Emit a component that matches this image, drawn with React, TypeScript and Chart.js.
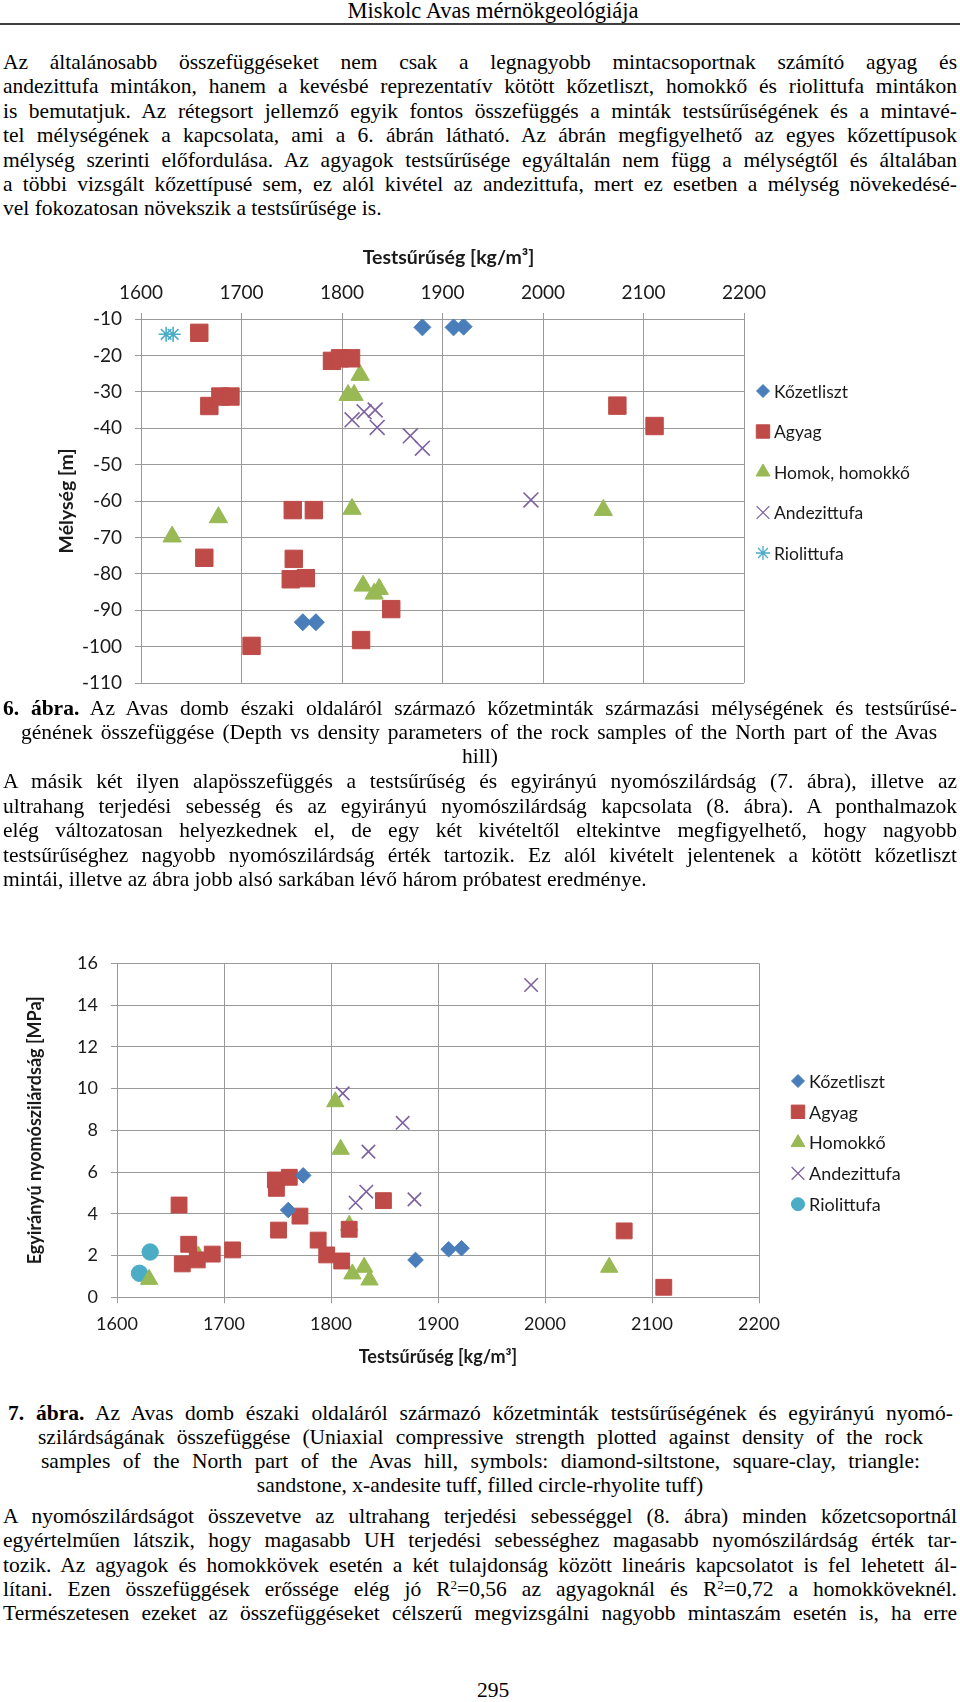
import React, { useEffect, useRef } from 'react';
import { Chart, registerables } from 'chart.js';
import { drawPoint } from 'chart.js/helpers';

Chart.register(...registerables);

// ---------- Figure 6 data: density [kg/m3] vs depth [m] ----------
const F6_KOZET_X = [1880, 1911, 1921, 1761, 1774];
const F6_KOZET_Y = [-12.3, -12.3, -12.1, -93.3, -93.3];
const F6_AGYAG_X = [1658, 1790, 1798, 1809, 1668, 1679, 1689, 2074, 2111, 1751, 1772, 1663, 1752, 1749, 1764, 1849, 1819, 1710];
const F6_AGYAG_Y = [-13.8, -21.5, -20.8, -20.8, -33.9, -31.3, -31.3, -33.8, -39.4, -62.5, -62.5, -75.6, -75.9, -81.5, -81.2, -89.7, -98.2, -99.8];
const F6_HOMOK_X = [1818, 1806, 1812, 1810, 1677, 1631, 2060, 1821, 1837, 1832];
const F6_HOMOK_Y = [-25.4, -30.9, -30.9, -62.2, -64.5, -69.8, -62.5, -83.3, -84.2, -85.5];
const F6_ANDEZ_X = [1810, 1822, 1833, 1835, 1868, 1880, 1988];
const F6_ANDEZ_Y = [-37.7, -35.5, -35.0, -39.8, -42.1, -45.5, -59.7];
const F6_RIO_X = [1625, 1632];
const F6_RIO_Y = [-14.2, -14.2];
const F6_LABELS = ['Kőzetliszt', 'Agyag', 'Homok, homokkő', 'Andezittufa', 'Riolittufa'];
const F6_X_TICKS = [1600, 2200, 100];
const F6_Y_TICKS = [-110, -10, 10];

// ---------- Figure 7 data: density [kg/m3] vs UCS [MPa] ----------
const F7_KOZET_X = [1760, 1774, 1879, 1910, 1922];
const F7_KOZET_Y = [4.18, 5.84, 1.79, 2.3, 2.35];
const F7_AGYAG_X = [1658, 1667, 1661, 1675, 1689, 1708, 1751, 1749, 1748, 1761, 1771, 1788, 1796, 1810, 1817, 1849, 2074, 2111];
const F7_AGYAG_Y = [4.42, 2.54, 1.6, 1.79, 2.07, 2.27, 3.22, 5.22, 5.62, 5.75, 3.89, 2.74, 2.03, 1.74, 3.26, 4.63, 3.18, 0.48];
const F7_HOMOK_X = [1630, 1676, 1804, 1809, 1817, 1820, 1831, 1836, 2060];
const F7_HOMOK_Y = [0.86, 1.98, 9.37, 7.09, 3.45, 1.12, 1.44, 0.83, 1.44];
const F7_ANDEZ_X = [1811, 1867, 1835, 1823, 1833, 1878, 1987];
const F7_ANDEZ_Y = [9.77, 8.36, 6.98, 4.53, 5.06, 4.69, 14.96];
const F7_RIO_X = [1621, 1631];
const F7_RIO_Y = [1.15, 2.17];
const F7_LABELS = ['Kőzetliszt', 'Agyag', 'Homokkő', 'Andezittufa', 'Riolittufa'];
const F7_X_TICKS = [1600, 2200, 100];
const F7_Y_TICKS = [0, 16, 2];

const BLUE = '#4A7EBB';
const RED = '#BE4B48';
const GREEN = '#98B954';
const PURPLE = '#7D60A0';
const CYAN = '#4BACC6';
const GRID = '#9A9A9A';
const FONT = 'Lato, "Open Sans", sans-serif';
const SERIF = '"Liberation Serif", "Times New Roman", serif';

const zip = (xs: number[], ys: number[]) => xs.map((x, i) => ({ x, y: ys[i] }));

type Sty = { style: string; radius: number; color: string; line?: boolean; lr: number };

function ds(label: string, xs: number[], ys: number[], s: Sty) {
  return {
    label,
    data: zip(xs, ys),
    pointStyle: s.style,
    pointRadius: s.radius,
    pointHoverRadius: s.radius,
    backgroundColor: s.line ? 'rgba(0,0,0,0)' : s.color,
    borderColor: s.color,
    pointBorderWidth: s.line ? 1.6 : 1,
    showLine: false,
  };
}

function overlay(opts: any) {
  return {
    id: 'overlay',
    afterDraw(chart: any) {
      const ctx = chart.ctx;
      const a = chart.chartArea;
      ctx.save();
      ctx.fillStyle = '#1a1a1a';
      ctx.textAlign = 'center';
      ctx.textBaseline = 'middle';
      ctx.font = `bold ${opts.titleSize}px ${FONT}`;
      ctx.fillText(opts.xTitle, (a.left + a.right) / 2 + opts.xTitleDx, opts.xTitleY);
      ctx.save();
      ctx.translate(opts.yTitleX, (a.top + a.bottom) / 2);
      ctx.rotate(-Math.PI / 2);
      ctx.fillText(opts.yTitle, 0, 0);
      ctx.restore();
      // legend
      ctx.textAlign = 'left';
      ctx.font = `${opts.legendSize}px ${FONT}`;
      opts.legend.forEach((it: any, i: number) => {
        const y = opts.legendY + i * opts.legendDy;
        ctx.save();
        ctx.fillStyle = it.line ? 'rgba(0,0,0,0)' : it.color;
        ctx.strokeStyle = it.color;
        ctx.lineWidth = it.line ? 1.3 : 1;
        drawPoint(ctx, { pointStyle: it.style, radius: it.lr, rotation: 0, borderWidth: ctx.lineWidth }, opts.legendX, y);
        ctx.restore();
        ctx.fillStyle = '#1a1a1a';
        ctx.fillText(it.label, opts.legendTextX, y + 1);
      });
      ctx.restore();
    },
  };
}

function ScatterChart(props: { width: number; height: number; config: any }) {
  const ref = useRef<HTMLCanvasElement | null>(null);
  useEffect(() => {
    if (!ref.current) return;
    const chart = new Chart(ref.current, props.config);
    return () => chart.destroy();
  }, []);
  return <canvas ref={ref} width={props.width} height={props.height} style={{ width: props.width, height: props.height, display: 'block' }} />;
}

function makeFig6() {
  const styles: Sty[] = [
    { style: 'rectRot', radius: 8.5, color: BLUE, lr: 6.5 },
    { style: 'rect', radius: 12.3, color: RED, lr: 9.5 },
    { style: 'triangle', radius: 10.6, color: GREEN, lr: 8 },
    { style: 'crossRot', radius: 10.5, color: PURPLE, line: true, lr: 9 },
    { style: 'star', radius: 7.5, color: CYAN, line: true, lr: 7 },
  ];
  const xs = [F6_KOZET_X, F6_AGYAG_X, F6_HOMOK_X, F6_ANDEZ_X, F6_RIO_X];
  const ys = [F6_KOZET_Y, F6_AGYAG_Y, F6_HOMOK_Y, F6_ANDEZ_Y, F6_RIO_Y];
  const datasets = F6_LABELS.map((l, i) => ds(l, xs[i], ys[i], styles[i]));
  return {
    type: 'scatter',
    data: { datasets },
    options: {
      responsive: false,
      animation: false,
      layout: { autoPadding: false, padding: { left: 0, right: 216, top: 0, bottom: 17 } },
      plugins: { legend: { display: false }, tooltip: { enabled: false } },
      scales: {
        x: {
          type: 'linear',
          position: 'top',
          min: F6_X_TICKS[0],
          max: F6_X_TICKS[1],
          afterFit: (s: any) => { s.height = 89; s.paddingLeft = 0; s.paddingRight = 0; },
          ticks: { stepSize: F6_X_TICKS[2], padding: 9, color: '#1a1a1a', font: { family: FONT, size: 19 }, callback: (v: any) => String(v) },
          grid: { color: GRID, tickLength: 6, drawTicks: true },
          border: { color: GRID },
        },
        y: {
          type: 'linear',
          min: F6_Y_TICKS[0],
          max: F6_Y_TICKS[1],
          afterFit: (s: any) => { s.width = 141; s.paddingTop = 0; s.paddingBottom = 0; },
          ticks: { stepSize: F6_Y_TICKS[2], padding: 13, color: '#1a1a1a', font: { family: FONT, size: 19 }, callback: (v: any) => String(v) },
          grid: { color: GRID, tickLength: 6, drawTicks: true },
          border: { color: GRID },
        },
      },
    },
    plugins: [overlay({
      titleSize: 19.5, xTitle: 'Testsűrűség [kg/m³]', xTitleDx: 6, xTitleY: 28,
      yTitle: 'Mélység [m]', yTitleX: 67,
      legendSize: 17.5, legendX: 763, legendTextX: 774, legendY: 161, legendDy: 40.5,
      legend: F6_LABELS.map((l, i) => ({ label: l, ...styles[i] })),
    })],
  };
}

function makeFig7() {
  const styles: Sty[] = [
    { style: 'rectRot', radius: 7.8, color: BLUE, lr: 6.5 },
    { style: 'rect', radius: 11.2, color: RED, lr: 9.5 },
    { style: 'triangle', radius: 10, color: GREEN, lr: 8 },
    { style: 'crossRot', radius: 9.5, color: PURPLE, line: true, lr: 9 },
    { style: 'circle', radius: 8.2, color: CYAN, lr: 6.5 },
  ];
  const xs = [F7_KOZET_X, F7_AGYAG_X, F7_HOMOK_X, F7_ANDEZ_X, F7_RIO_X];
  const ys = [F7_KOZET_Y, F7_AGYAG_Y, F7_HOMOK_Y, F7_ANDEZ_Y, F7_RIO_Y];
  const datasets = F7_LABELS.map((l, i) => ds(l, xs[i], ys[i], styles[i]));
  return {
    type: 'scatter',
    data: { datasets },
    options: {
      responsive: false,
      animation: false,
      layout: { autoPadding: false, padding: { left: 0, right: 201, top: 23.3, bottom: 0 } },
      plugins: { legend: { display: false }, tooltip: { enabled: false } },
      scales: {
        x: {
          type: 'linear',
          position: 'bottom',
          min: F7_X_TICKS[0],
          max: F7_X_TICKS[1],
          afterFit: (s: any) => { s.height = 82.7; s.paddingLeft = 0; s.paddingRight = 0; },
          ticks: { stepSize: F7_X_TICKS[2], padding: 10, color: '#1a1a1a', font: { family: FONT, size: 18 }, callback: (v: any) => String(v) },
          grid: { color: GRID, tickLength: 6, drawTicks: true },
          border: { color: GRID },
        },
        y: {
          type: 'linear',
          min: F7_Y_TICKS[0],
          max: F7_Y_TICKS[1],
          afterFit: (s: any) => { s.width = 117; s.paddingTop = 0; s.paddingBottom = 0; },
          ticks: { stepSize: F7_Y_TICKS[2], padding: 13, color: '#1a1a1a', font: { family: FONT, size: 18 }, callback: (v: any) => String(v) },
          grid: { color: GRID, tickLength: 6, drawTicks: true },
          border: { color: GRID },
        },
      },
    },
    plugins: [overlay({
      titleSize: 18, xTitle: 'Testsűrűség [kg/m³]', xTitleDx: 0, xTitleY: 417,
      yTitle: 'Egyirányú nyomószilárdság [MPa]', yTitleX: 35,
      legendSize: 18, legendX: 798, legendTextX: 809, legendY: 141, legendDy: 30.8,
      legend: F7_LABELS.map((l, i) => ({ label: l, ...styles[i] })),
    })],
  };
}

const FS = 21.5;
const LH = 24;

function Line(p: { c: number; align?: string; children: any; left?: number; width?: number; fs?: number }) {
  const align = p.align || 'justify';
  return (
    <div
      style={{
        position: 'absolute',
        top: p.c - LH / 2,
        left: p.left ?? 3,
        width: p.width ?? 954,
        height: LH,
        lineHeight: `${LH}px`,
        fontSize: p.fs ?? FS,
        fontFamily: SERIF,
        color: '#000',
        textAlign: align as any,
        textAlignLast: (align === 'justify' ? 'justify' : align) as any,
        whiteSpace: 'nowrap',
      }}
    >
      {p.children}
    </div>
  );
}

const sup = (t: string) => <span style={{ fontSize: 13, verticalAlign: 7, lineHeight: 0 }}>{t}</span>;

export default function App() {
  const fig6 = makeFig6();
  const fig7 = makeFig7();
  const p1 = [
    'Az általánosabb összefüggéseket nem csak a legnagyobb mintacsoportnak számító agyag és',
    'andezittufa mintákon, hanem a kevésbé reprezentatív kötött kőzetliszt, homokkő és riolittufa mintákon',
    'is bemutatjuk. Az rétegsort jellemző egyik fontos összefüggés a minták testsűrűségének és a mintavé-',
    'tel mélységének a kapcsolata, ami a 6. ábrán látható. Az ábrán megfigyelhető az egyes kőzettípusok',
    'mélység szerinti előfordulása. Az agyagok testsűrűsége egyáltalán nem függ a mélységtől és általában',
    'a többi vizsgált kőzettípusé sem, ez alól kivétel az andezittufa, mert ez esetben a mélység növekedésé-',
  ];
  const p2 = [
    'A másik két ilyen alapösszefüggés a testsűrűség és egyirányú nyomószilárdság (7. ábra), illetve az',
    'ultrahang terjedési sebesség és az egyirányú nyomószilárdság kapcsolata (8. ábra). A ponthalmazok',
    'elég változatosan helyezkednek el, de egy két kivételtől eltekintve megfigyelhető, hogy nagyobb',
    'testsűrűséghez nagyobb nyomószilárdság érték tartozik. Ez alól kivételt jelentenek a kötött kőzetliszt',
  ];
  const p3 = [
    'A nyomószilárdságot összevetve az ultrahang terjedési sebességgel (8. ábra) minden kőzetcsoportnál',
    'egyértelműen látszik, hogy magasabb UH terjedési sebességhez magasabb nyomószilárdság érték tar-',
    'tozik. Az agyagok és homokkövek esetén a két tulajdonság között lineáris kapcsolatot is fel lehetett ál-',
  ];
  return (
    <div style={{ position: 'absolute', left: 0, top: 0, width: 960, height: 1702, background: '#fff', overflow: 'hidden' }}>
      <Line c={11} align="center" left={46} width={894} fs={22.5}>Miskolc Avas mérnökgeológiája</Line>
      <div style={{ position: 'absolute', left: 0, top: 23, width: 960, height: 0, borderTop: '2px solid #404040' }} />

      {p1.map((t, i) => <Line key={'a' + i} c={62 + i * 24.4}>{t}</Line>)}
      <Line c={62 + 6 * 24.4} align="left">vel fokozatosan növekszik a testsűrűsége is.</Line>

      <div style={{ position: 'absolute', left: 0, top: 230 }}>
        <ScatterChart width={960} height={470} config={fig6} />
      </div>

      <Line c={708}><b>6. ábra.</b> Az Avas domb északi oldaláról származó kőzetminták származási mélységének és testsűrűsé-</Line>
      <Line c={732} left={21} width={916}>génének összefüggése (Depth vs density parameters of the rock samples of the North part of the Avas</Line>
      <Line c={756} align="center">hill)</Line>

      {p2.map((t, i) => <Line key={'b' + i} c={781 + i * 24.5}>{t}</Line>)}
      <Line c={781 + 4 * 24.5} align="left">mintái, illetve az ábra jobb alsó sarkában lévő három próbatest eredménye.</Line>

      <div style={{ position: 'absolute', left: 0, top: 940 }}>
        <ScatterChart width={960} height={440} config={fig7} />
      </div>

      <Line c={1413} left={8} width={945}><b>7. ábra.</b> Az Avas domb északi oldaláról származó kőzetminták testsűrűségének és egyirányú nyomó-</Line>
      <Line c={1437} left={38} width={885}>szilárdságának összefüggése (Uniaxial compressive strength plotted against density of the rock</Line>
      <Line c={1461} left={41} width={879}>samples of the North part of the Avas hill, symbols: diamond-siltstone, square-clay, triangle:</Line>
      <Line c={1485} align="center">sandstone, x-andesite tuff, filled circle-rhyolite tuff)</Line>

      {p3.map((t, i) => <Line key={'c' + i} c={1516 + i * 24.3}>{t}</Line>)}
      <Line c={1516 + 3 * 24.3}>lítani. Ezen összefüggések erőssége elég jó R{sup('2')}=0,56 az agyagoknál és R{sup('2')}=0,72 a homokköveknél.</Line>
      <Line c={1516 + 4 * 24.3}>Természetesen ezeket az összefüggéseket célszerű megvizsgálni nagyobb mintaszám esetén is, ha erre</Line>

      <Line c={1690} align="center" left={46} width={894}>295</Line>
    </div>
  );
}
